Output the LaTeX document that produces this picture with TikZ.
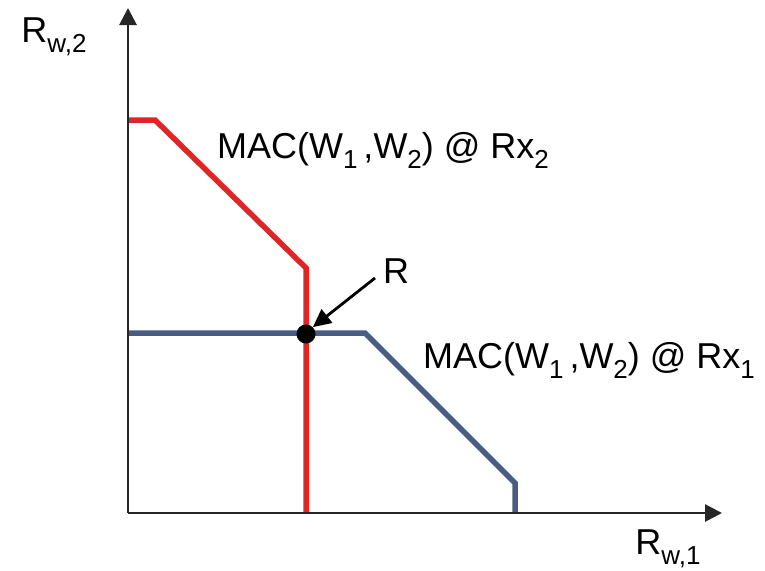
\documentclass[tikz,border=0pt]{standalone}
\usepackage{fontspec}
\setmainfont{Liberation Sans}
\usetikzlibrary{arrows.meta}
\definecolor{redline}{RGB}{222,38,38}
\definecolor{blueline}{RGB}{72,92,132}
\newcommand{\sbs}[1]{\raisebox{-0.28em}{\fontsize{26}{30}\selectfont #1}}
\begin{document}
\begin{tikzpicture}[x=1pt,y=-1pt,
  axis/.style={line width=2.8pt,draw=black!85,-{Triangle[length=17pt,width=17pt]}},
  curve/.style={line width=5.5pt,line join=miter},
  lbl/.style={font=\fontsize{36}{42}\selectfont,inner sep=0pt},
  pointer/.style={line width=2.8pt,-{Triangle[length=18pt,width=17pt]}}]
\useasboundingbox (0,0) rectangle (765,570);
% axes
\coordinate (O) at (128,513);
\coordinate (ytip) at (128,8);
\coordinate (xtip) at (722,513);
% red region (Rx2)
\coordinate (r0) at (128,120);
\coordinate (r1) at (155,120);
\coordinate (r2) at (306,268);
\coordinate (r3) at (306,513);
% blue region (Rx1)
\coordinate (b0) at (128,333);
\coordinate (b1) at (365,333);
\coordinate (b2) at (515,483);
\coordinate (b3) at (515,513);
\draw[curve,draw=redline] (r0) -- (r1) -- (r2) -- (r3);
\draw[curve,draw=blueline] (b0) -- (b1) -- (b2) -- (b3);
\draw[axis] (O) -- (ytip);
\draw[axis] (O) -- (xtip);
\node[circle,fill=black,minimum size=19pt,inner sep=0pt] (R) at (306,334) {};
\node[lbl] (Rlbl) at (396,271) {R};
\coordinate (pstart) at (375,278);
\draw[pointer] (pstart) -- (R.north east);
\node[lbl] (mac2) at (383,150) {MAC(W\sbs{1}\,,W\sbs{2}) @ Rx\sbs{2}};
\node[lbl] (mac1) at (589,360) {MAC(W\sbs{1}\,,W\sbs{2}) @ Rx\sbs{1}};
\node[lbl] (ylab) at (54,37) {R\sbs{w,2}};
\node[lbl] (xlab) at (668,549) {R\sbs{w,1}};
\end{tikzpicture}
\end{document}
